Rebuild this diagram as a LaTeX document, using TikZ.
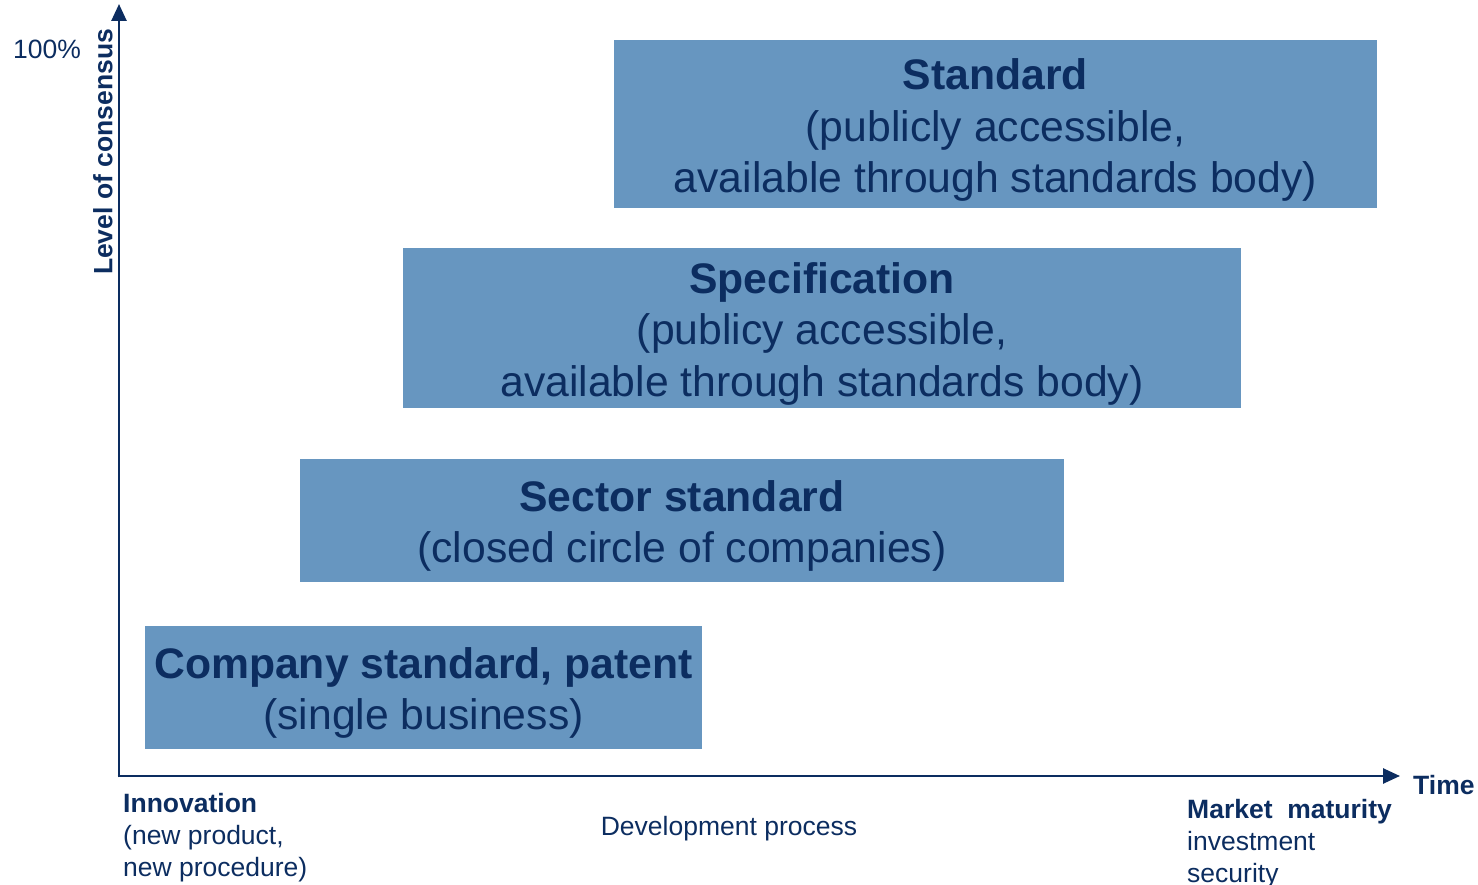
\documentclass[tikz,border=0pt]{standalone}
\usepackage{fontspec}
\setmainfont{Liberation Sans}
\usetikzlibrary{arrows.meta}
\definecolor{navy}{RGB}{12,45,96}
\definecolor{boxblue}{RGB}{103,150,192}
\tikzset{
  axis/.style={draw=navy, line width=2.6pt, -{Triangle[length=17pt,width=15pt]}},
  levelbox/.style={fill=boxblue, draw=none},
  boxtext/.style={text=navy, align=center, inner sep=0pt, font=\fontsize{42.7}{51.5}\selectfont},
  smalltext/.style={text=navy, inner sep=0pt, align=left, font=\fontsize{26.5}{32}\selectfont},
}
\begin{document}
\begin{tikzpicture}[x=1pt,y=-1pt]
\useasboundingbox (0,0) rectangle (1478,885);
% boxes
\path[levelbox] (614,40) rectangle (1377,208);
\path[levelbox] (403,248) rectangle (1241,408);
\path[levelbox] (300,459) rectangle (1064,582);
\path[levelbox] (145,626) rectangle (702,749);
\node[boxtext] (std) at (995.5,130) {\textbf{Standard}\\(publicly accessible,\\available through standards body)};
\node[boxtext] (spec) at (822,333.5) {\textbf{Specification}\\(publicy accessible,\\available through standards body)};
\node[boxtext] (sector) at (682,526) {\textbf{Sector standard}\\(closed circle of companies)};
\node[boxtext] (company) at (423.5,693) {\textbf{Company standard, patent}\\(single business)};
% axes
\coordinate (origin) at (119,776);
\coordinate (ytop) at (119,4);
\coordinate (xend) at (1400,776);
\draw[axis] ([yshift=-1.3pt]origin) -- (ytop);
\draw[axis] ([xshift=-1.3pt]origin) -- (xend);
% labels
\node[smalltext, anchor=west] (pct) at (13,49) {100\%};
\node[smalltext, font=\bfseries\fontsize{26.5}{32}\selectfont, rotate=90] (ylab) at (103,152) {Level of consensus};
\node[smalltext, font=\bfseries\fontsize{26.5}{32}\selectfont, anchor=west] (time) at (1413,785) {Time};
\node[smalltext, anchor=west] (innov) at (123,838) {\textbf{Innovation}\\(new product,\\new procedure)};
\node[smalltext, anchor=west] (market) at (1187,844) {\textbf{Market~ maturity}\\investment\\security};
\node[smalltext] (dev) at (729,829) {Development process};
\end{tikzpicture}
\end{document}
